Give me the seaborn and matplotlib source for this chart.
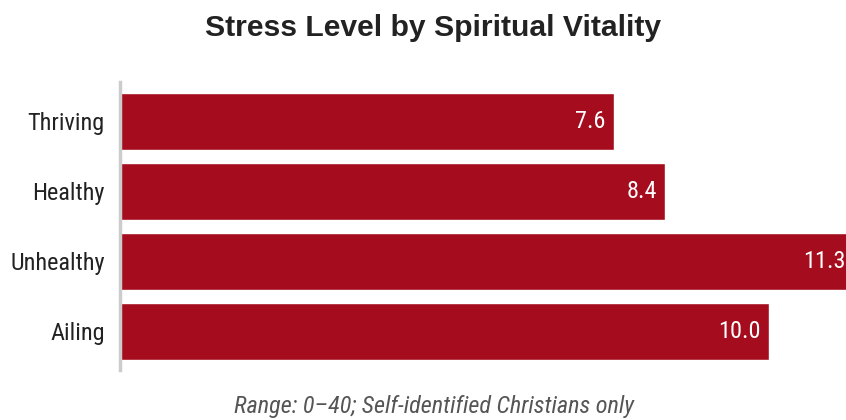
import matplotlib
matplotlib.use("Agg")
import matplotlib.pyplot as plt
import seaborn as sns
import pandas as pd
from matplotlib import font_manager

categories = ["Thriving", "Healthy", "Unhealthy", "Ailing"]
values = [7.6, 8.4, 11.3, 10.0]
title = "Stress Level by Spiritual Vitality"
caption = "Range: 0\u201340; Self-identified Christians only"

sns.set_theme(style="white")
names = {f.name for f in font_manager.fontManager.ttflist}
fam = "Roboto Condensed" if "Roboto Condensed" in names else "Liberation Sans Narrow" if "Liberation Sans Narrow" in names else "Liberation Sans"
plt.rcParams["font.family"] = [fam, "DejaVu Sans"]

df = pd.DataFrame({"category": categories, "value": values})
color = "#A50D1E"

fig = plt.figure(figsize=(8.46, 4.2), dpi=100)
ax = fig.add_axes([120/846, 1 - 370/420, 1 - 120/846, (370 - 82)/420])
sns.barplot(data=df, y="category", x="value", order=categories, color=color,
            width=0.814, saturation=1, ax=ax)
ax.set_xlim(0, 11.18)
ax.set_ylim(3.55, -0.56)
for i, v in enumerate(values):
    ax.text(v - 0.13, i, f"{v:.1f}", ha="right", va="center", color="white",
            fontsize=17.5)
ax.set_xlabel("")
ax.set_ylabel("")
ax.set_xticks([])
for s in ["top", "right", "bottom"]:
    ax.spines[s].set_visible(False)
ax.spines["left"].set_color("#cccccc")
ax.spines["left"].set_linewidth(2.5)
ax.tick_params(axis="y", length=0, pad=11, labelsize=17.5, labelcolor="#222222")

fig.text(433/846, 1 - 28/420, title, ha="center", va="center", fontsize=21.7, fontweight="bold",
         color="#222222", family=["Liberation Sans", "DejaVu Sans"])
fig.text(434/846, 1 - 407/420, caption, ha="center", va="center", fontsize=17.5, style="italic", color="#555555")

fig.savefig("out.png", dpi=100)
